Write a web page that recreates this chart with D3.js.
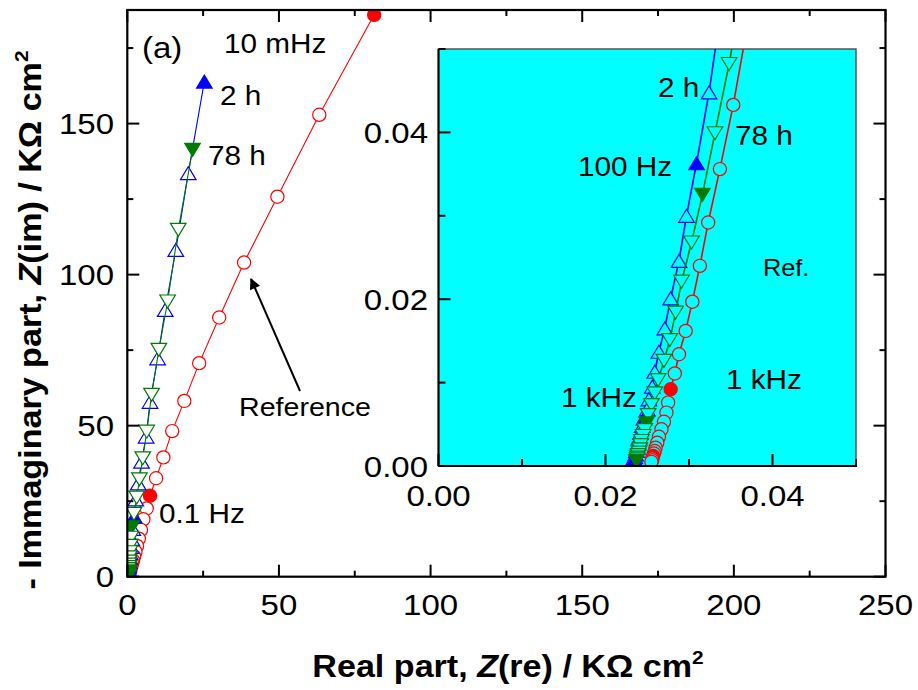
<!DOCTYPE html>
<html><head><meta charset="utf-8">
<script src="https://cdn.jsdelivr.net/npm/d3@7/dist/d3.min.js"></script>
<style>
body{margin:0;background:#fff}
svg{display:block}
text{font-family:"Liberation Sans",Arial,Helvetica,sans-serif;fill:#000}
</style>
</head><body>
<svg id="chart" width="918" height="690"></svg>
<script>
// ---------------- DATA (x = Z(re), y = -Z(im), KOhm cm2; third value 1 = decade marker, filled) ----
const refSeries = [
 [81.4,186.0,1],[63.3,152.9],[49.5,125.8],[38.5,104.0],[30.3,85.8],[23.7,70.7],[18.8,58.2],[14.8,48.2],[11.9,39.5],[9.5,32.6],
 [7.5,26.8,1],[6.4,22.6],[5.3,19.0],[4.5,15.5],[3.8,12.6],[3.2,10.2],[2.7,8.3],[2.25,6.7],[1.9,5.4],[1.6,4.35],
 [1.35,3.5,1],[1.12,2.82],[0.93,2.27],[0.77,1.83],[0.64,1.47],[0.53,1.19],[0.44,0.96],[0.36,0.77],[0.30,0.62],[0.25,0.50],
 [0.21,0.40,1],[0.17,0.333],[0.14,0.278],[0.115,0.232],[0.096,0.193],[0.081,0.161],[0.069,0.134],[0.058,0.112],[0.050,0.093],[0.044,0.077],
 [0.039,0.064,1],[0.0370,0.0528],[0.0353,0.0433],[0.0337,0.0356],[0.0323,0.0292],[0.0313,0.0240],[0.0304,0.0197],[0.0296,0.0162],[0.0288,0.0134],[0.0283,0.0111],
 [0.0278,0.0092,1],[0.0275,0.0076],[0.0273,0.0064],[0.0270,0.0053],[0.0267,0.0044],[0.0264,0.0035],[0.0262,0.0028],[0.0260,0.0022],[0.0259,0.0018],[0.0258,0.0015],
 [0.0257,0.0012,1],[0.0256,0.0009],[0.0256,0.0007],[0.0255,0.0005]
];
const h2Series = [
 [25.4,163.9,1],[20.1,133.6],[16.0,108.2],[12.5,88.3],[10.0,72.3],[7.5,57.9],[6.2,46.4],[4.7,38.1],[3.6,30.9],[2.8,25.6],
 [2.3,19.9,1],[1.8,15.8],[1.45,12.5],[1.18,9.9],[0.96,7.8],[0.78,6.2],[0.64,4.87],[0.52,3.85],[0.42,3.04],[0.34,2.4],
 [0.28,1.9,1],[0.23,1.55],[0.19,1.27],[0.16,1.04],[0.135,0.85],[0.115,0.70],[0.10,0.57],[0.087,0.47],[0.076,0.385],[0.067,0.315],
 [0.060,0.258,1],[0.054,0.212],[0.049,0.174],[0.045,0.143],[0.042,0.118],[0.039,0.097],[0.037,0.080],[0.0354,0.066],[0.0338,0.0545],[0.0324,0.0448],
 [0.0309,0.0363,1],[0.0297,0.0300],[0.0288,0.0246],[0.0278,0.0201],[0.0271,0.0165],[0.0264,0.0137],[0.0259,0.0113],[0.0256,0.0095],[0.0252,0.0080],[0.0250,0.0068],
 [0.0246,0.0057,1],[0.0244,0.0048],[0.0242,0.0040],[0.0240,0.0033],[0.0239,0.0027],[0.0238,0.0022],[0.0237,0.0018],[0.0236,0.0014],[0.0235,0.0011],[0.0234,0.0009],
 [0.0234,0.0007,1]
];
const h78Series = [
 [21.5,141.3,1],[16.8,114.8],[13.3,91.1],[10.4,75.1],[8.0,60.2],[6.4,48.0],[5.1,39.2],[4.0,32.2],[3.1,26.2],[2.2,20.8],
 [1.45,16.3,1],[1.18,12.9],[0.97,10.2],[0.80,8.1],[0.66,6.4],[0.55,5.0],[0.45,3.98],[0.37,3.15],[0.31,2.5],[0.26,1.97],
 [0.22,1.56,1],[0.195,1.28],[0.17,1.06],[0.15,0.87],[0.13,0.72],[0.115,0.59],[0.10,0.49],[0.090,0.40],[0.080,0.33],[0.071,0.27],
 [0.063,0.225,1],[0.057,0.186],[0.052,0.153],[0.048,0.126],[0.044,0.104],[0.041,0.086],[0.0385,0.071],[0.0366,0.0585],[0.0348,0.0482],[0.0331,0.0399],
 [0.0316,0.0325,1],[0.0303,0.0268],[0.0291,0.0221],[0.0284,0.0184],[0.0277,0.0151],[0.0270,0.0126],[0.0263,0.0103],[0.0259,0.0087],[0.0255,0.0073],[0.0251,0.0061],
 [0.0249,0.0051,1],[0.0247,0.0043],[0.0245,0.0036],[0.0243,0.0030],[0.0242,0.0025],[0.0241,0.0020],[0.0240,0.0016],[0.0239,0.0013],[0.0238,0.0010],[0.0238,0.0008],
 [0.0237,0.0006,1]
];
const seriesNames = ["Reference","2 h","78 h"];
const mainXDomain = [0, 250];
const mainYDomain = [0, 187.6];
const mainXTicks = [0, 50, 100, 150, 200, 250];
const mainXMinor = [25, 75, 125, 175, 225];
const mainYTicks = [0, 50, 100, 150];
const mainYMinor = [25, 75, 125, 175];
const insetDomain = [0, 0.05];
const insetTicks = [0, 0.02, 0.04];
const insetMinor = [0.01, 0.03, 0.05];
const insetTickLabels = ["0.00", "0.02", "0.04"];

// ---------------- LAYOUT ----------------
const SX = 1.1;               // horizontal glyph stretch of the original
const FONT_TICK = 30, FONT_TITLE = 31, FONT_ANN = 27;
const M = {l:127.3, r:885.5, t:10, b:576.7};
const I = {l:438.5, r:856, t:49, b:466};
const COL = {ref:"#ff0000", h2:"#0000ff", h78:"#007a00"};
const CYAN = "#00ffff";

const svg = d3.select("#chart");
const x = d3.scaleLinear().domain(mainXDomain).range([M.l, M.r]);
const y = d3.scaleLinear().domain(mainYDomain).range([M.b, M.t]);
const xi = d3.scaleLinear().domain(insetDomain).range([I.l, I.r]);
const yi = d3.scaleLinear().domain(insetDomain).range([I.b, I.t]);

const defs = svg.append("defs");
defs.append("clipPath").attr("id","clipMain").append("rect")
  .attr("x",M.l).attr("y",M.t).attr("width",M.r-M.l).attr("height",M.b-M.t);
defs.append("clipPath").attr("id","clipInset").append("rect")
  .attr("x",I.l).attr("y",I.t).attr("width",I.r-I.l).attr("height",I.b-I.t);

function txt(parent, s, px, py, o={}) {
  const t = parent.append("text")
    .attr("transform", `translate(${px},${py})${o.rot?` rotate(${o.rot})`:""} scale(${o.sx||SX},1)`)
    .attr("text-anchor", o.anchor||"start")
    .style("font-size", (o.size||FONT_ANN)+"px")
    .style("font-weight", o.weight||"normal");
  if (s !== null) t.text(s);
  return t;
}

function markerPath(shape, cx, cy) {
  if (shape === "circle") {
    const r = 6.6;
    return `M${cx-r},${cy}a${r},${r} 0 1,0 ${2*r},0a${r},${r} 0 1,0 ${-2*r},0Z`;
  }
  const w = 7.8, h = 13;
  if (shape === "up") return `M${cx},${cy-h/2}L${cx+w},${cy+h/2}L${cx-w},${cy+h/2}Z`;
  return `M${cx},${cy+h/2}L${cx+w},${cy-h/2}L${cx-w},${cy-h/2}Z`;
}

const seriesDefs = [
  {data: refSeries, color: COL.ref, shape: "circle"},
  {data: h2Series,  color: COL.h2,  shape: "up"},
  {data: h78Series, color: COL.h78, shape: "down"}
];

function drawSeries(g, sx, sy, bg, lw) {
  seriesDefs.forEach(s => {
    const line = d3.line().x(d => sx(d[0])).y(d => sy(d[1]));
    g.append("path").datum(s.data).attr("d", line)
      .attr("fill","none").attr("stroke", s.color).attr("stroke-width", lw);
    g.selectAll(null).data(s.data).enter().append("path")
      .attr("d", d => markerPath(s.shape, sx(d[0]), sy(d[1])))
      .attr("fill", d => d[2] ? s.color : bg)
      .attr("stroke", s.color).attr("stroke-width", 1.2);
  });
}

// ---------------- MAIN PLOT ----------------
const gMain = svg.append("g").attr("clip-path","url(#clipMain)");
gMain.append("rect").attr("x", x(0)-6).attr("y", y(0)-12).attr("width", 14).attr("height", 14)
  .attr("fill","none").attr("stroke","#3399ff").attr("stroke-width",1.5);
drawSeries(gMain, x, y, "#fff", 1.1);

const axG = svg.append("g").attr("stroke","#000").attr("stroke-width",2);
mainXTicks.forEach(v => {
  axG.append("line").attr("x1",x(v)).attr("x2",x(v)).attr("y1",M.b).attr("y2",M.b-12);
  axG.append("line").attr("x1",x(v)).attr("x2",x(v)).attr("y1",M.t).attr("y2",M.t+12);
});
mainXMinor.forEach(v => {
  axG.append("line").attr("x1",x(v)).attr("x2",x(v)).attr("y1",M.b).attr("y2",M.b-6);
  axG.append("line").attr("x1",x(v)).attr("x2",x(v)).attr("y1",M.t).attr("y2",M.t+6);
});
mainYTicks.forEach(v => {
  axG.append("line").attr("y1",y(v)).attr("y2",y(v)).attr("x1",M.l).attr("x2",M.l+12);
  axG.append("line").attr("y1",y(v)).attr("y2",y(v)).attr("x1",M.r).attr("x2",M.r-12);
});
mainYMinor.forEach(v => {
  axG.append("line").attr("y1",y(v)).attr("y2",y(v)).attr("x1",M.l).attr("x2",M.l+6);
  axG.append("line").attr("y1",y(v)).attr("y2",y(v)).attr("x1",M.r).attr("x2",M.r-6);
});
svg.append("rect").attr("x",M.l).attr("y",M.t).attr("width",M.r-M.l).attr("height",M.b-M.t)
  .attr("fill","none").attr("stroke","#000").attr("stroke-width",2.2);

mainXTicks.forEach(v => txt(svg, d3.format("d")(v), x(v), 615, {anchor:"middle", size:FONT_TICK}));
mainYTicks.forEach(v => txt(svg, d3.format("d")(v), 114, y(v)+10.7, {anchor:"end", size:FONT_TICK}));

const xt = txt(svg, null, 508, 677, {anchor:"middle", size:FONT_TITLE, weight:"bold"});
xt.append("tspan").text("Real part, ");
xt.append("tspan").style("font-style","italic").text("Z");
xt.append("tspan").text("(re) / K\u03A9 cm");
xt.append("tspan").attr("dy",-13).style("font-size","19px").text("2");

const yt = txt(svg, null, 41, 320, {anchor:"middle", size:FONT_TITLE, weight:"bold", rot:-90});
yt.append("tspan").text("- Immaginary part, ");
yt.append("tspan").style("font-style","italic").text("Z");
yt.append("tspan").text("(im) / K\u03A9 cm");
yt.append("tspan").attr("dy",-13).style("font-size","19px").text("2");

txt(svg, "(a)", 142, 58, {size:30});
txt(svg, "10 mHz", 224, 53, {size:FONT_ANN});
txt(svg, "2 h", 220, 105, {size:FONT_ANN});
txt(svg, "78 h", 208, 165, {size:FONT_ANN});
txt(svg, "Reference", 239, 416, {size:FONT_ANN-1});
txt(svg, "0.1 Hz", 159, 523, {size:FONT_ANN});

defs.append("marker").attr("id","arrowHead").attr("viewBox","0 0 10 10")
  .attr("refX",9).attr("refY",5).attr("markerWidth",16).attr("markerHeight",11)
  .attr("markerUnits","userSpaceOnUse").attr("orient","auto")
  .append("path").attr("d","M0,0L10,5L0,10Z").attr("fill","#000");
svg.append("line").attr("x1",300).attr("y1",391).attr("x2",251).attr("y2",279)
  .attr("stroke","#000").attr("stroke-width",2).attr("marker-end","url(#arrowHead)");

// ---------------- INSET ----------------
svg.append("rect").attr("x",I.l).attr("y",I.t).attr("width",I.r-I.l).attr("height",I.b-I.t)
  .attr("fill",CYAN).attr("stroke","#555").attr("stroke-width",1.5);
const gIn = svg.append("g").attr("clip-path","url(#clipInset)");
drawSeries(gIn, xi, yi, CYAN, 1.6);

const axI = svg.append("g").attr("stroke","#000").attr("stroke-width",2);
insetTicks.forEach(v => {
  axI.append("line").attr("x1",xi(v)).attr("x2",xi(v)).attr("y1",I.b).attr("y2",I.b-12);
  axI.append("line").attr("y1",yi(v)).attr("y2",yi(v)).attr("x1",I.l).attr("x2",I.l+12);
});
insetMinor.forEach(v => {
  axI.append("line").attr("x1",xi(v)).attr("x2",xi(v)).attr("y1",I.b).attr("y2",I.b-7);
  axI.append("line").attr("y1",yi(v)).attr("y2",yi(v)).attr("x1",I.l).attr("x2",I.l+7);
});
axI.append("line").attr("x1",I.l).attr("x2",I.r+1).attr("y1",I.b).attr("y2",I.b);
axI.append("line").attr("x1",I.l).attr("x2",I.l).attr("y1",I.t).attr("y2",I.b);

insetTicks.forEach((v,i) => txt(svg, insetTickLabels[i], xi(v), 506, {anchor:"middle", size:FONT_TICK}));
insetTicks.forEach((v,i) => txt(svg, insetTickLabels[i], 428, yi(v)+10.7, {anchor:"end", size:FONT_TICK}));

txt(svg, "2 h", 658, 97, {size:FONT_ANN});
txt(svg, "78 h", 735, 145, {size:FONT_ANN});
txt(svg, "100 Hz", 578, 176, {size:FONT_ANN});
txt(svg, "Ref.", 763, 276, {size:23});
txt(svg, "1 kHz", 726, 389, {size:FONT_ANN});
txt(svg, "1 kHz", 561, 407, {size:FONT_ANN});
</script>
</body></html>
